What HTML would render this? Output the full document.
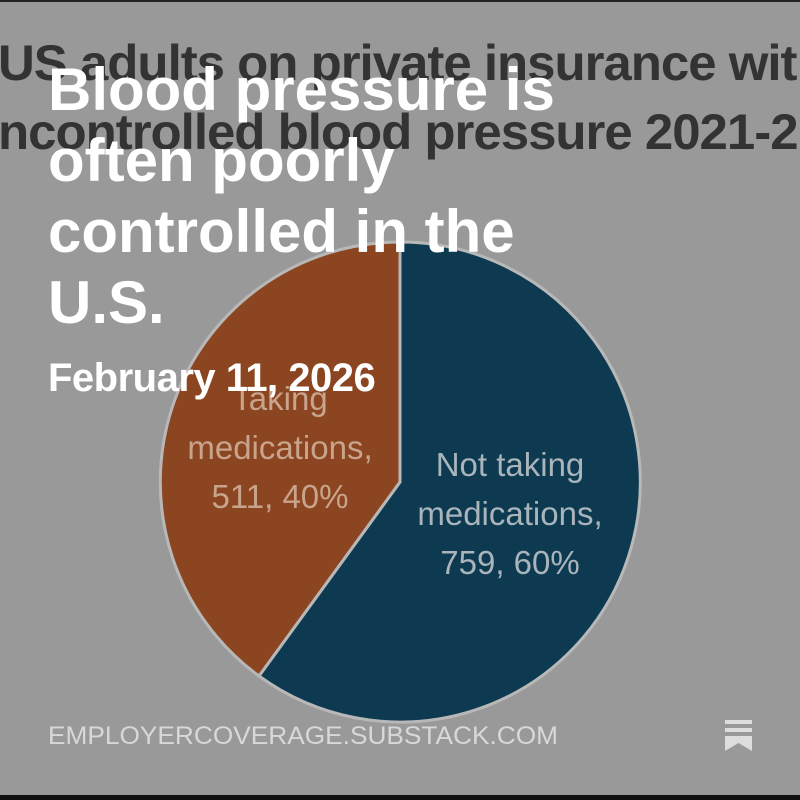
<!DOCTYPE html>
<html><head><meta charset="utf-8"><style>
html,body{margin:0;padding:0}
body{width:800px;height:800px;background:#999;position:relative;overflow:hidden;font-family:"Liberation Sans",sans-serif}
.bt{position:absolute;left:0;top:0;width:800px;height:2px;background:#222}
.bb{position:absolute;left:0;top:795px;width:800px;height:5px;background:#111}
.bgt{position:absolute;left:-2px;white-space:nowrap;color:#333;font-weight:bold;font-size:50px;transform:scaleX(1.02);transform-origin:left;letter-spacing:-1px}
.t{position:absolute;left:48px;top:54px;color:#fff;font-weight:bold;font-size:60px;line-height:71px;width:560px}
.d{position:absolute;left:48px;top:356px;color:#fff;font-weight:bold;font-size:40px;letter-spacing:-0.5px}
.f{position:absolute;left:48px;top:722px;color:#d8d8d8;font-size:25px;transform:scaleX(1.05);transform-origin:left}
.lab{position:absolute;text-align:center;font-size:33px;line-height:49px}
</style></head><body>
<div class="bt"></div>
<div class="bgt" style="top:34px">US adults on private insurance with</div>
<div class="bgt" style="top:103px">ncontrolled blood pressure 2021-2</div>
<svg style="position:absolute;left:0;top:0" width="800" height="800">
<path d="M400,482 L400,242 A240,240 0 1 1 259,676 Z" fill="#0d3a50" stroke="#b8b8b8" stroke-width="3"/>
<path d="M400,482 L259,676 A240,240 0 0 1 400,242 Z" fill="#8b4520" stroke="#b8b8b8" stroke-width="3"/>
<rect x="725" y="720" width="27" height="4" fill="#ddd"/>
<rect x="725" y="728" width="27" height="4" fill="#ddd"/>
<path d="M725,736 H752 V751 L738.5,743 L725,751 Z" fill="#ddd"/>
</svg>
<div class="lab" style="left:160px;top:374px;width:240px;color:#c9a48c">Taking<br>medications,<br>511, 40%</div>
<div class="lab" style="left:400px;top:440px;width:220px;color:#a9b4bb">Not taking<br>medications,<br>759, 60%</div>
<div class="t">Blood pressure is often poorly controlled in the U.S.</div>
<div class="d">February 11, 2026</div>
<div class="f">EMPLOYERCOVERAGE.SUBSTACK.COM</div>
<div class="bb"></div>
</body></html>
